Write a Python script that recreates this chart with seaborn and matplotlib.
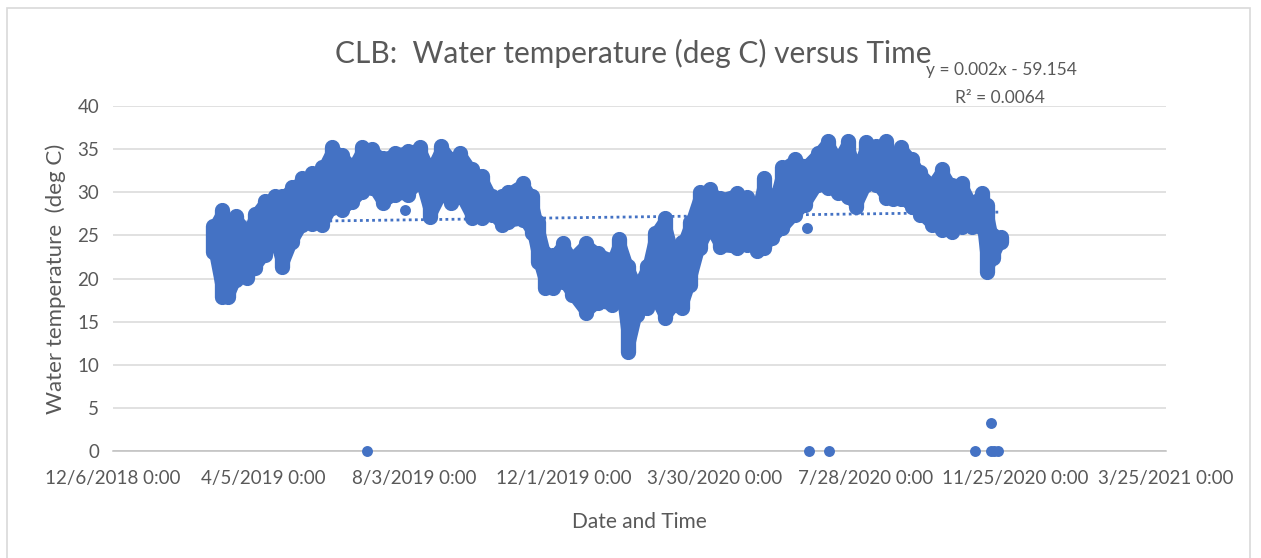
"""
CLB water temperature versus time - Excel style scatter
"""
import matplotlib
matplotlib.use("Agg")
import matplotlib.pyplot as plt
import matplotlib.patches as mpatches
import seaborn as sns
import numpy as np
import pandas as pd

# Excel date serials (days since 1899-12-30) and daily temperature range (deg C)
serial = [43520, 43527, 43532, 43538, 43547, 43553, 43561, 43569, 43575, 43583,
          43591, 43599, 43607, 43615, 43623, 43631, 43639, 43647, 43655, 43665,
          43675, 43685, 43693, 43702, 43710, 43717, 43726, 43734, 43742, 43750,
          43755, 43767, 43774, 43779, 43785, 43791, 43799, 43806, 43817, 43827,
          43838, 43844, 43851, 43858, 43866, 43872, 43880, 43888, 43894, 43900,
          43908, 43916, 43924, 43938, 43946, 43954, 43959, 43966, 43974, 43984,
          43992, 44002, 44010, 44018, 44026, 44033, 44041, 44049, 44057, 44062,
          44069, 44077, 44084, 44093, 44101, 44109, 44117, 44125, 44133, 44137,
          44142, 44148]
temp_high = [26.1, 27.9, 26.1, 27.3, 25.4, 27.5, 29.0, 29.6, 29.6, 30.6,
             31.6, 32.2, 32.9, 35.2, 34.3, 33.1, 35.2, 35.0, 34.0, 34.6,
             34.8, 35.2, 32.7, 35.4, 33.9, 34.6, 32.7, 31.9, 29.6, 29.6,
             30.0, 31.1, 29.6, 26.5, 23.0, 22.7, 24.1, 22.5, 24.1, 23.0,
             22.3, 24.6, 21.5, 19.2, 21.5, 25.3, 27.0, 22.7, 24.2, 26.5,
             30.0, 30.4, 29.3, 29.9, 29.4, 28.5, 31.6, 28.5, 32.9, 33.9,
             33.1, 34.6, 36.0, 33.9, 36.0, 32.7, 35.8, 35.4, 36.0, 33.5,
             35.2, 33.9, 32.3, 31.0, 32.7, 30.8, 31.1, 28.8, 29.9, 28.5,
             25.0, 24.8]
temp_low = [23.1, 17.8, 17.8, 19.8, 20.1, 21.2, 22.7, 24.2, 21.3, 24.2,
            26.2, 26.3, 26.2, 28.2, 27.9, 28.9, 30.0, 30.5, 28.7, 29.7,
            29.7, 31.2, 27.1, 29.7, 28.7, 29.5, 27.0, 27.0, 27.4, 26.2,
            26.5, 26.8, 25.3, 21.9, 18.9, 18.9, 19.6, 18.1, 16.0, 17.2,
            16.9, 19.6, 11.5, 15.8, 16.6, 17.7, 15.4, 16.9, 16.6, 19.2,
            23.5, 25.8, 23.7, 23.5, 23.9, 23.2, 23.5, 24.7, 25.8, 27.4,
            28.5, 30.8, 30.5, 29.9, 29.4, 28.3, 30.8, 30.8, 29.3, 29.2,
            29.2, 28.3, 27.4, 26.2, 25.6, 25.4, 26.0, 26.0, 25.8, 20.7,
            22.4, 24.2]

# isolated readings (sensor zeros and a few stray points)
stray_serial = [43643, 43673, 43994, 43995, 44011, 44128, 44140, 44140, 44143, 44146]
stray_temp = [0.0, 27.9, 25.8, 0.0, 0.0, 0.0, 0.0, 3.2, 0.0, 0.0]

# linear trendline as displayed (start / end of data range)
trend_serial = [43520, 44148]
trend_temp = [26.5, 27.7]

tick_serial = [43440, 43560, 43680, 43800, 43920, 44040, 44160, 44280]

BLUE = "#4472C4"
GREY_TXT = "#595959"


def serial_label(v):
    d = pd.to_datetime(v, unit="D", origin="1899-12-30")
    return f"{d.month}/{d.day}/{d.year} 0:00"


sns.set_theme(style="white")
plt.rcParams["font.family"] = ["Lato", "DejaVu Sans"]

fig = plt.figure(figsize=(12.61, 5.58), dpi=100)
ax = fig.add_axes([113 / 1261, 1 - 451 / 558, (1166 - 113) / 1261, (451 - 106) / 558])

# chart area border
fig.patches.append(mpatches.Rectangle((7 / 1261, -0.1), (1250 - 7) / 1261, 1.1 - 8 / 558,
                                      transform=fig.transFigure, fill=False,
                                      edgecolor="#d9d9d9", linewidth=1.2))

# dense band of readings
ax.fill_between(serial, temp_low, temp_high, color=BLUE, edgecolor=BLUE,
                linewidth=7, joinstyle="round", zorder=3)
ax.vlines(serial, temp_low, temp_high, color=BLUE, linewidth=11,
          capstyle="round", zorder=3)

sns.scatterplot(x=stray_serial, y=stray_temp, ax=ax, color=BLUE, s=62,
                edgecolor=BLUE, linewidth=0, zorder=4, clip_on=False)

sns.lineplot(x=trend_serial, y=trend_temp, ax=ax, color=BLUE, linewidth=2,
             linestyle=(0, (1, 1.2)), zorder=2)

ax.set_xlim(43440, 44280)
ax.set_ylim(0, 40)
ax.set_xticks(tick_serial)
ax.set_xticklabels([serial_label(v) for v in tick_serial])
ax.set_yticks(range(0, 41, 5))
ax.tick_params(axis="both", length=0, labelsize=13.5, labelcolor=GREY_TXT)
ax.tick_params(axis="x", pad=14)
ax.tick_params(axis="y", pad=10)
ax.grid(axis="y", color="#d9d9d9", linewidth=1.1)
for side in ["top", "right", "left"]:
    ax.spines[side].set_visible(False)
ax.spines["bottom"].set_color("#bfbfbf")
ax.spines["bottom"].set_linewidth(1.1)

ax.set_ylabel("Water temperature  (deg C)", fontsize=16, color=GREY_TXT, labelpad=8)
ax.set_xlabel("Date and Time", fontsize=15, color=GREY_TXT, labelpad=18)

fig.text(633 / 1261, 1 - 53 / 558, "CLB:  Water temperature (deg C) versus Time",
         ha="center", va="center", fontsize=21.5, color=GREY_TXT)
fig.text(1001 / 1261, 1 - 70 / 558, "y = 0.002x - 59.154", ha="center", va="center",
         fontsize=12.5, color=GREY_TXT)
fig.text(1000 / 1261, 1 - 98 / 558, "R² = 0.0064", ha="center", va="center",
         fontsize=12.5, color=GREY_TXT)

fig.savefig("out.png", dpi=100, facecolor="white")
